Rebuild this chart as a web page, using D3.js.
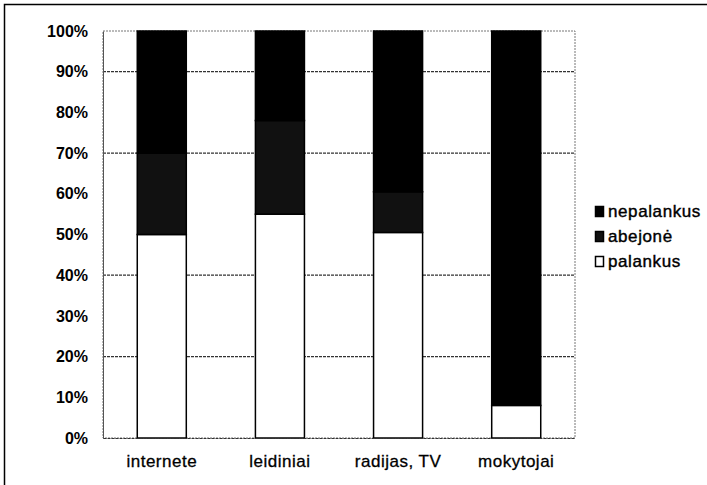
<!DOCTYPE html>
<html><head><meta charset="utf-8">
<script src="https://cdn.jsdelivr.net/npm/d3@7"></script>
<style>body{margin:0;background:#fff}svg{display:block}text{font-family:"Liberation Sans",Arial,sans-serif}</style>
</head><body><svg id="c" width="707" height="485"></svg>
<script>
const categories = ["internete", "leidiniai", "radijas, TV", "mokytojai"];
const palankus   = [50, 55, 50.5, 8];
const abejone    = [20, 23, 10, 0];
const nepalankus = [30, 22, 39.5, 92];
const seriesNames = ["palankus", "abejonė", "nepalankus"];
const yTicks = [0, 10, 20, 30, 40, 50, 60, 70, 80, 90, 100];
const gridTicks = [20, 40, 70, 90];
const colors = {"palankus": "#ffffff", "abejonė": "#111111", "nepalankus": "#000000"};

const svg = d3.select("#c");
const W = 707, H = 485;
const m = {l: 103, r: 132, t: 31, b: 47};
const x = d3.scaleBand().domain(categories).range([m.l, W - m.r]).paddingInner(0.585).paddingOuter(0.29);
const y = d3.scaleLinear().domain([0, 100]).range([H - m.b, m.t]);

// outer frame
svg.append("rect").attr("x", 4.5).attr("y", 4.5).attr("width", 708).attr("height", 490)
  .attr("fill", "none").attr("stroke", "#000").attr("stroke-width", 1.5);

// plot frame
svg.append("rect").attr("x", m.l).attr("y", m.t).attr("width", W - m.r - m.l).attr("height", H - m.b - m.t)
  .attr("fill", "none").attr("stroke", "#777").attr("stroke-width", 1).attr("stroke-dasharray", "2,1");

// gridlines
svg.append("g").selectAll("line").data(gridTicks).join("line")
  .attr("x1", m.l).attr("x2", W - m.r).attr("y1", d => y(d)).attr("y2", d => y(d))
  .attr("stroke", "#333").attr("stroke-width", 1.2).attr("stroke-dasharray", "3,1");

const rows = categories.map((c, i) => ({cat: c, "palankus": palankus[i], "abejonė": abejone[i], "nepalankus": nepalankus[i]}));
const stack = d3.stack().keys(seriesNames)(rows);

svg.append("g").selectAll("g").data(stack).join("g")
  .attr("fill", d => colors[d.key])
  .selectAll("rect").data(d => d).join("rect")
  .attr("x", d => x(d.data.cat)).attr("width", x.bandwidth())
  .attr("y", d => y(d[1])).attr("height", d => y(d[0]) - y(d[1]))
  .attr("stroke", "#000").attr("stroke-width", 1.5);

// y axis
const ya = svg.append("g").attr("transform", `translate(${m.l},0)`)
  .call(d3.axisLeft(y).tickValues(yTicks).tickFormat(d => d + "%").tickSize(0).tickPadding(15));
ya.select(".domain").attr("stroke", "#555");
ya.selectAll("text").attr("font-size", 16).attr("font-weight", "bold").attr("fill", "#000");

// x axis
const xa = svg.append("g").attr("transform", `translate(0,${H - m.b})`)
  .call(d3.axisBottom(x).tickSize(0).tickPadding(17));
xa.select(".domain").attr("stroke", "#333").attr("stroke-dasharray", "3,1");
xa.selectAll("text").attr("font-size", 17).attr("letter-spacing", 0.5).attr("fill", "#000")
  .attr("stroke", "#000").attr("stroke-width", 0.3);

// legend
const legOrder = ["nepalankus", "abejonė", "palankus"];
const lg = svg.append("g").attr("transform", "translate(595,206)");
legOrder.forEach((k, i) => {
  const g = lg.append("g").attr("transform", `translate(0,${i * 25})`);
  g.append("rect").attr("x", 0.5).attr("y", 0.5).attr("width", 8).attr("height", 10)
    .attr("fill", colors[k]).attr("stroke", "#000").attr("stroke-width", 1.5);
  g.append("text").attr("x", 13).attr("y", 11).attr("font-size", 17).attr("letter-spacing", 0.6)
    .attr("fill", "#000").attr("stroke", "#000").attr("stroke-width", 0.4).text(k);
});
</script></body></html>
